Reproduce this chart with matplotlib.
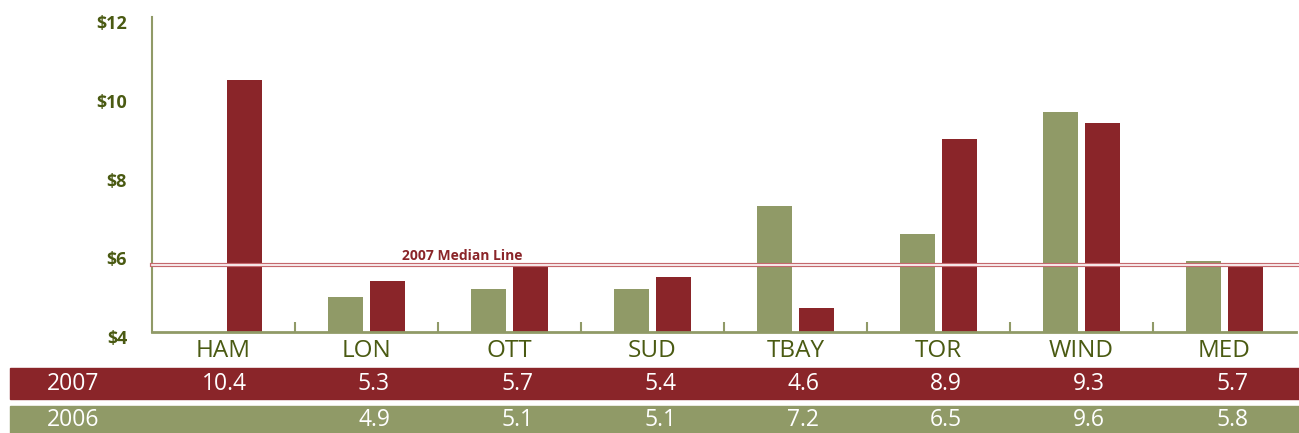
import numpy as np
import matplotlib.pyplot as plt
import matplotlib.transforms as mtrans
from matplotlib.patches import Rectangle

plt.rcParams['font.family'] = ['Open Sans', 'DejaVu Sans']

cities = ["HAM", "LON", "OTT", "SUD", "TBAY", "TOR", "WIND", "MED"]
v2007 = [10.4, 5.3, 5.7, 5.4, 4.6, 8.9, 9.3, 5.7]
v2006 = [np.nan, 4.9, 5.1, 5.1, 7.2, 6.5, 9.6, 5.8]
yticks = [4, 6, 8, 10, 12]

red = "#8a2529"
olive = "#909a67"
dark = "#4a5a12"
W, H = 1299, 433

fig = plt.figure(figsize=(W / 100, H / 100), dpi=100)
ax = fig.add_axes([152 / W, 1 - 332 / H, 1144 / W, 315 / H])

x = np.arange(len(cities))
ax.bar(x - 0.15, v2006, 0.245, color=olive, zorder=2)
ax.bar(x + 0.15, v2007, 0.245, color=red, zorder=2)

ax.set_xlim(-0.5, len(cities) - 0.5)
ax.set_ylim(4, 12)
ax.set_yticks(yticks)
ax.set_yticklabels(["$%d" % t for t in yticks], fontsize=13, fontweight="bold", color=dark)
ax.tick_params(axis="y", length=0, pad=18)
# labels sit a few pixels below their gridline value in the original
shift = mtrans.ScaledTranslation(0, -0.05, fig.dpi_scale_trans)
for lbl in ax.get_yticklabels():
    lbl.set_va("center_baseline")
    lbl.set_transform(lbl.get_transform() + shift)
ax.set_xticks(x[:-1] + 0.5)
ax.set_xticklabels([])
ax.tick_params(axis="x", direction="in", length=7, width=1.5, color=olive)

for s in ["top", "right"]:
    ax.spines[s].set_visible(False)
ax.spines["left"].set_color(olive)
ax.spines["left"].set_linewidth(1.5)
ax.spines["bottom"].set_color(olive)
ax.spines["bottom"].set_linewidth(2)

# median line (double)
med = np.median(v2007[:-1])
ax.axhline(med, xmin=0, xmax=1.01, color="#c4686d", lw=3.0, zorder=3, clip_on=False)
ax.axhline(med, xmin=0, xmax=1.01, color="white", lw=1.2, zorder=3, clip_on=False)
ax.text(1.67, med + 0.06, "2007 Median Line", color=red, fontsize=10,
        fontweight="bold", ha="center", va="bottom", zorder=4)

# category labels + table
tr = mtrans.blended_transform_factory(ax.transData, fig.transFigure)
for i, c in enumerate(cities):
    fig.text(i, 1 - 351 / H, c, transform=tr, ha="center", va="center",
             fontsize=17.5, color=dark)

fig.patches.append(Rectangle((10 / W, 1 - 399 / H), 1 - 10 / W, 31 / H,
                             transform=fig.transFigure, color=red, zorder=0))
fig.patches.append(Rectangle((10 / W, 0), 1 - 10 / W, 27 / H,
                             transform=fig.transFigure, color=olive, zorder=0))

rows = [("2007", v2007, 1 - 384 / H), ("2006", v2006, 1 - 420 / H)]
for name, vals, yy in rows:
    fig.text(47 / W, yy, name, ha="left", va="center", fontsize=16.5,
             color="white", zorder=5)
    for i, v in enumerate(vals):
        if not np.isnan(v):
            fig.text(i + 0.165, yy, "%.1f" % v, transform=tr, ha="right",
                     va="center", fontsize=16.5, color="white", zorder=5)

fig.savefig("out.png", dpi=100)
